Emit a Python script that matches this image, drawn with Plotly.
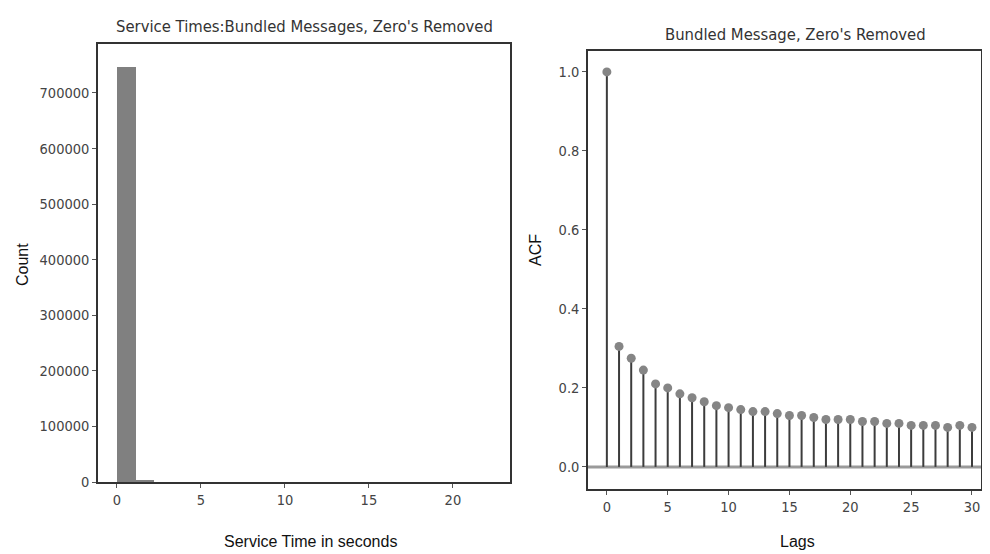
import plotly.graph_objects as go

# ---- Data ----
bin_width = 1.115
hist_bin_left = [round(i * bin_width, 3) for i in range(20)]
hist_counts = [746000, 4500, 0, 0, 0, 0, 0, 0, 0, 0, 0, 0, 0, 0, 0, 0, 0, 0, 0, 0]

lags = list(range(31))
acf_values = [1.0, 0.305, 0.275, 0.245, 0.21, 0.2, 0.185, 0.175, 0.165, 0.155, 0.15,
              0.145, 0.14, 0.14, 0.135, 0.13, 0.13, 0.125, 0.12, 0.12, 0.12,
              0.115, 0.115, 0.11, 0.11, 0.105, 0.105, 0.105, 0.1, 0.105, 0.1]

hist_x_ticks = [0, 5, 10, 15, 20]
hist_y_ticks = [0, 100000, 200000, 300000, 400000, 500000, 600000, 700000]
acf_x_ticks = [0, 5, 10, 15, 20, 25, 30]
acf_y_ticks = [0.0, 0.2, 0.4, 0.6, 0.8, 1.0]

left_title = "Service Times:Bundled Messages, Zero's Removed"
right_title = "Bundled Message, Zero's Removed"

COND = "DejaVu Sans Condensed, Liberation Sans Narrow, Roboto, sans-serif"
TICK_FONT = dict(family=COND, size=14.5, color="#444444")
TITLE_FONT = dict(family=COND, size=16.5, color="#333333")
LABEL_FONT = dict(family="Liberation Sans, Arial, sans-serif", size=16, color="#111111")

# page body has an 8px margin: figure is offset by (8, 8) inside the window
OFF = 8
W, H = 982, 546


def px(x):
    return (x - OFF) / W


def py(y):
    return 1 - (y - OFF) / H


fig = go.Figure()

# Histogram bars
fig.add_trace(go.Bar(
    x=[b + bin_width / 2 for b in hist_bin_left], y=hist_counts, width=bin_width,
    marker=dict(color="#808080", line=dict(width=0)),
    xaxis="x", yaxis="y", showlegend=False, hoverinfo="x+y"))

# ACF stems
stem_x, stem_y = [], []
for l, v in zip(lags, acf_values):
    stem_x += [l, l, None]
    stem_y += [0, v, None]

fig.add_trace(go.Scatter(
    x=[-5, 40], y=[0, 0], mode="lines", line=dict(color="#9a9a9a", width=3),
    xaxis="x2", yaxis="y2", showlegend=False, hoverinfo="skip"))
fig.add_trace(go.Scatter(
    x=stem_x, y=stem_y, mode="lines", line=dict(color="#3c3c3c", width=2),
    xaxis="x2", yaxis="y2", showlegend=False, hoverinfo="skip"))
fig.add_trace(go.Scatter(
    x=lags, y=acf_values, mode="markers",
    marker=dict(color="#858585", size=9),
    xaxis="x2", yaxis="y2", showlegend=False))

axis_common = dict(showgrid=False, zeroline=False, showline=True, linecolor="#333333",
                   linewidth=1.5, mirror=True, ticks="outside", ticklen=4,
                   tickcolor="#555555", tickfont=TICK_FONT, automargin=False)

fig.update_layout(
    width=W, height=H,
    margin=dict(l=0, r=0, t=0, b=0),
    paper_bgcolor="white", plot_bgcolor="white",
    bargap=0,
    xaxis=dict(domain=[px(98), px(510)], range=[-1.13, 23.4],
               tickvals=hist_x_ticks, anchor="y", **axis_common),
    yaxis=dict(domain=[py(482), py(44)], range=[0, 788000],
               tickvals=hist_y_ticks, ticktext=[str(v) for v in hist_y_ticks],
               anchor="x", **axis_common),
    xaxis2=dict(domain=[px(588), px(981)], range=[-1.55, 30.74],
                tickvals=acf_x_ticks, anchor="y2", **axis_common),
    yaxis2=dict(domain=[py(489), py(51)], range=[-0.056, 1.053],
                tickvals=acf_y_ticks, ticktext=[f"{v:.1f}" for v in acf_y_ticks],
                anchor="x2", **axis_common),
)

annotations = [
    dict(text=left_title, x=px(304), y=py(27), font=TITLE_FONT),
    dict(text=right_title, x=px(795), y=py(34), font=TITLE_FONT),
    dict(text="Service Time in seconds", x=px(310), y=py(541), font=LABEL_FONT),
    dict(text="Lags", x=px(797), y=py(541), font=LABEL_FONT),
    dict(text="Count", x=px(22), y=py(265), font=LABEL_FONT, textangle=-90),
    dict(text="ACF", x=px(535), y=py(250), font=LABEL_FONT, textangle=-90),
]
for a in annotations:
    fig.add_annotation(xref="paper", yref="paper", showarrow=False,
                       xanchor="center", yanchor="middle", **a)

fig.write_html("out.html")
